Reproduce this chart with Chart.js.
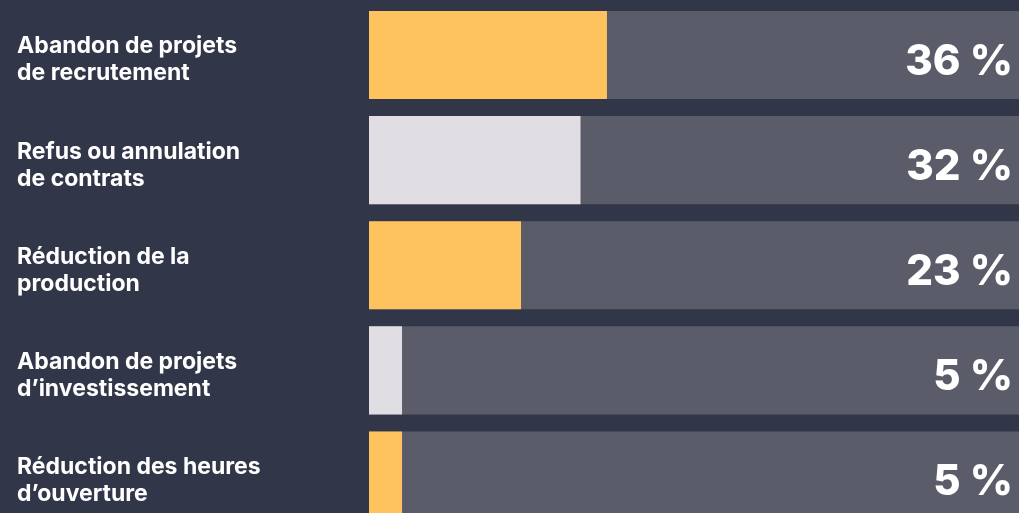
<!DOCTYPE html>
<html><head><meta charset="utf-8">
<script src="https://cdn.jsdelivr.net/npm/chart.js@4"></script>
<style>
html,body{margin:0;padding:0;background:#313648;overflow:hidden;width:1019px;height:513px;}
#wrap{position:absolute;left:0;top:0;width:1030px;height:528px;}
</style></head><body>
<div id="wrap"><canvas id="c"></canvas></div>
<script>
const categories = [
  ["Abandon de projets","de recrutement"],
  ["Refus ou annulation","de contrats"],
  ["Réduction de la","production"],
  ["Abandon de projets","d’investissement"],
  ["Réduction des heures","d’ouverture"]
];
const values = [36, 32, 23, 5, 5];
const valueLabels = ["36 %","32 %","23 %","5 %","5 %"];
const trackValues = [100, 100, 100, 100, 100];
const fillColors = ["#fec35f","#e0dee3","#fec35f","#e0dee3","#fec35f"];

const valueText = {
  id:'valueText',
  afterDatasetsDraw(chart){
    const ctx = chart.ctx;
    const meta = chart.getDatasetMeta(0);
    ctx.save();
    ctx.fillStyle = '#ffffff';
    ctx.font = '800 42px Inter';
    ctx.textAlign = 'right';
    ctx.textBaseline = 'alphabetic';
    meta.data.forEach((bar,i)=>{
      ctx.fillText(valueLabels[i], 1013, bar.y + 20);
    });
    ctx.restore();
  }
};

new Chart(document.getElementById('c'), {
  type:'bar',
  data:{
    labels: categories,
    datasets:[
      {data: values, backgroundColor: fillColors, grouped:false, order:0,
       categoryPercentage:1, barPercentage:0.838},
      {data: trackValues, backgroundColor:'#5b5c6a', grouped:false, order:1,
       categoryPercentage:1, barPercentage:0.838}
    ]
  },
  options:{
    indexAxis:'y',
    responsive:true,
    maintainAspectRatio:false,
    animation:false,
    layout:{padding:{left:17, top:2.5, right:0, bottom:0}},
    plugins:{legend:{display:false}, tooltip:{enabled:false}},
    scales:{
      x:{display:false, min:0, max:100},
      y:{
        grid:{display:false}, border:{display:false},
        afterFit(scale){ scale.width = 352; scale.paddingTop = 0; scale.paddingBottom = 0; },
        ticks:{color:'#ffffff', crossAlign:'far', padding:0, labelOffset:5,
          font:{family:'Inter', weight:'bold', size:23, lineHeight:1.174}}
      }
    }
  },
  plugins:[valueText]
});
</script>
</body></html>
